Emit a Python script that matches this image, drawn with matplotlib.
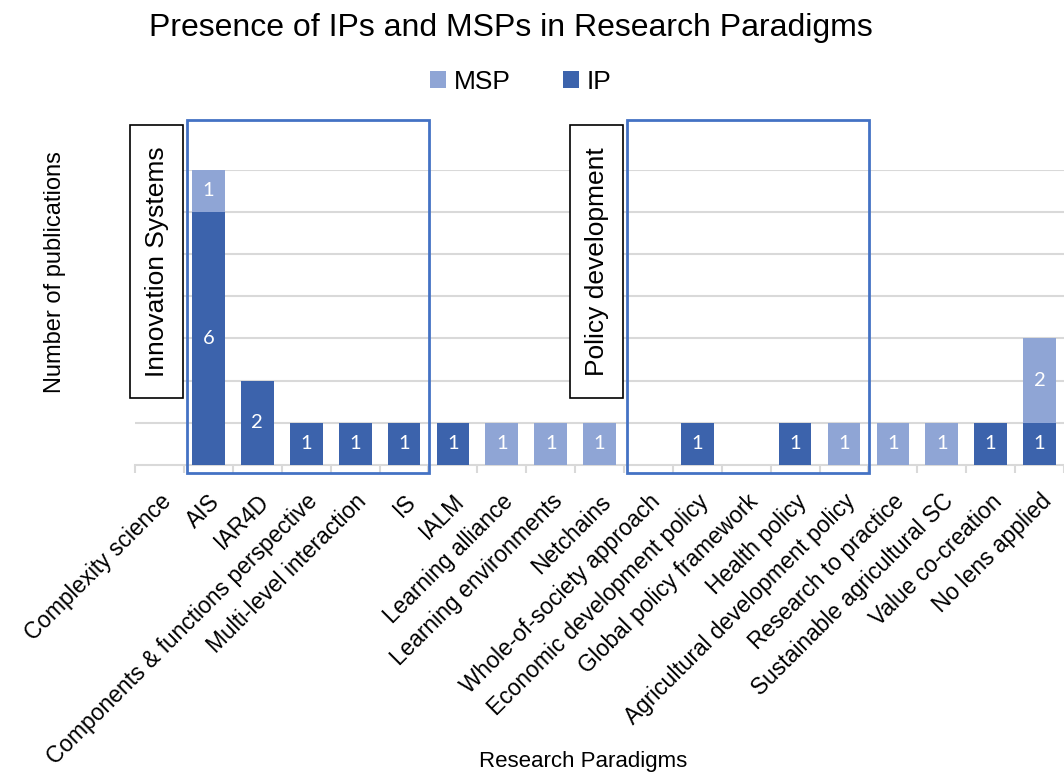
import matplotlib.pyplot as plt
import matplotlib.patches as mpatches
import numpy as np

plt.rcParams["font.family"] = ["Liberation Sans", "DejaVu Sans"]

categories = [
    "Complexity science", "AIS", "IAR4D", "Components & functions perspective",
    "Multi-level interaction", "IS", "IALM", "Learning alliance",
    "Learning environments", "Netchains", "Whole-of-society approach",
    "Economic development policy", "Global policy framework", "Health policy",
    "Agricultural development policy", "Research to practice",
    "Sustainable agricultural SC", "Value co-creation", "No lens applied",
]
ip = [0, 6, 2, 1, 1, 1, 1, 0, 0, 0, 0, 1, 0, 1, 0, 0, 0, 1, 1]
msp = [0, 1, 0, 0, 0, 0, 0, 1, 1, 1, 0, 0, 0, 0, 1, 1, 1, 0, 2]

# group boxes: (first category, last category, label)
groups = [(1, 5, "Innovation Systems"), (10, 14, "Policy development")]

ip_color = "#3C63AC"
msp_color = "#8FA5D5"
box_color = "#4472C4"

fig = plt.figure(figsize=(10.64, 7.75), dpi=100)
ax = fig.add_axes([0.127, 0.4, 0.873, 0.381])

x = np.arange(len(categories))
ip = np.array(ip)
msp = np.array(msp)
width = 0.67

b1 = ax.bar(x, ip, width, color=ip_color, label="IP", zorder=3)
b2 = ax.bar(x, msp, width, bottom=ip, color=msp_color, label="MSP", zorder=3)

for xi, v in zip(x, ip):
    if v > 0:
        ax.text(xi, v / 2, str(v), ha="center", va="center", color="white",
                fontsize=14.5, family="Lato", zorder=4)
for xi, v, b in zip(x, msp, ip):
    if v > 0:
        ax.text(xi, b + v / 2, str(v), ha="center", va="center", color="white",
                fontsize=14.5, family="Lato", zorder=4)

ax.set_xlim(-0.5, len(categories) - 0.5)
ax.set_ylim(0, 7)
ax.set_yticks(range(1, 8))
ax.set_yticklabels([])
ax.tick_params(axis="y", length=0)
ax.yaxis.grid(True, color="#D9D9D9", linewidth=1.5, zorder=0)
ax.set_axisbelow(True)
for s in ["top", "right", "left"]:
    ax.spines[s].set_visible(False)
ax.spines["bottom"].set_color("#D9D9D9")
ax.spines["bottom"].set_linewidth(1.5)

ax.set_xticks(np.arange(len(categories) + 1) - 0.5, minor=True)
ax.set_xticks(x)
ax.set_xticklabels(categories, rotation=45, ha="right", rotation_mode="anchor",
                   fontsize=16.4)
ax.tick_params(axis="x", which="major", length=0, pad=18)
ax.tick_params(axis="x", which="minor", length=6, color="#D9D9D9", width=1.5)

# group highlight boxes
for first, last, label in groups:
    x0 = first - 0.44
    x1 = last + 0.52
    ax.add_patch(mpatches.Rectangle((x0, -0.19), x1 - x0, 8.36, fill=False,
                                    edgecolor=box_color, linewidth=2,
                                    clip_on=False, zorder=5))
    ax.add_patch(mpatches.Rectangle((first - 1.6, 1.59), 1.08, 6.48,
                                    facecolor="white", edgecolor="black",
                                    linewidth=1.2, clip_on=False, zorder=6))
    ax.text(first - 1.06, 4.83, label, rotation=90, ha="center", va="center",
            fontsize=19, zorder=7)

fig.text(0.052, 0.649, "Number of publications", rotation=90, ha="center",
         va="center", fontsize=17)
fig.text(0.548, 0.017, "Research Paradigms", ha="center", va="center",
         fontsize=16)

fig.text(0.480, 0.964, "Presence of IPs and MSPs in Research Paradigms",
         ha="center", va="center", fontsize=23)
fig.legend(handles=[b2, b1], labels=["MSP", "IP"], loc="center",
           bbox_to_anchor=(0.4895, 0.894), ncol=2, frameon=False, fontsize=19,
           handlelength=0.6, handleheight=0.6, handletextpad=0.3,
           columnspacing=2.0)

fig.savefig("out.png", dpi=100)
